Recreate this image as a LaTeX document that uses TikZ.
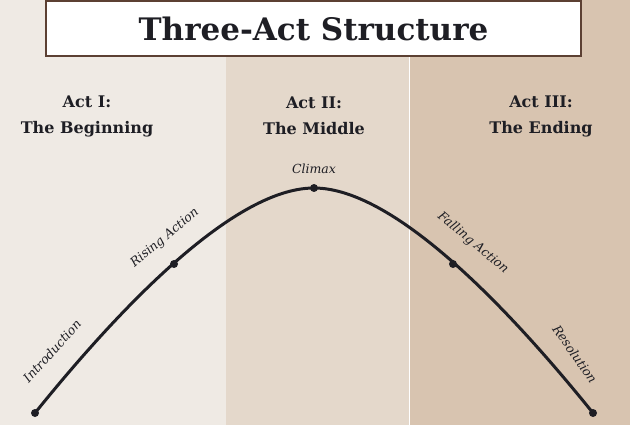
\documentclass[tikz,border=0pt]{standalone}
\usepackage{fontspec}
\setmainfont{DejaVu Serif}
\definecolor{actone}{HTML}{EFEAE4}
\definecolor{acttwo}{HTML}{E4D8CB}
\definecolor{actthree}{HTML}{D8C4B0}
\definecolor{frame}{HTML}{5C4033}
\definecolor{ink}{HTML}{1E1E24}
\tikzset{
  act/.style={align=center, text=ink, font=\bfseries\fontsize{16}{26}\selectfont},
  stage/.style={text=ink, font=\itshape\fontsize{12.5}{14}\selectfont},
  dot/.style={circle, fill=ink, inner sep=0, minimum size=8pt}
}
\begin{document}
\begin{tikzpicture}[x=1pt, y=-1pt]
    \useasboundingbox (0,0) rectangle (630,425);
    \fill[actone] (0,0) rectangle (226,425);
    \fill[acttwo] (226,0) rectangle (409,425);
    \fill[actthree] (409,0) rectangle (630,425);
    \draw[white, line width=0.8pt] (409,57) -- (409,425);
    \node[draw=frame, line width=2pt, fill=white, minimum width=535pt, minimum height=55pt,
          text=ink, font=\bfseries\fontsize{31}{34}\selectfont] (title) at (313.5,28.5) {Three-Act Structure};
    \node[act] (a1) at (87,116) {Act I:\\The Beginning};
    \node[act] (a2) at (314,116) {Act II:\\The Middle};
    \node[act] (a3) at (541,116) {Act III:\\The Ending};
    % story arc
    \node[dot] (intro) at (35,413) {};
    \node[dot] (rise) at (174,264) {};
    \node[dot] (climax) at (314,188) {};
    \node[dot] (fall) at (453,264) {};
    \node[dot] (resol) at (593,413) {};
    \draw[ink, line width=3pt] (intro.center) .. controls (110,320) and (230,188) .. (climax.center)
        .. controls (398,188) and (518,320) .. (resol.center);
    \node[stage, rotate=48] at (52,351) {Introduction};
    \node[stage, rotate=40] at (165,238) {Rising Action};
    \node[stage] at (314,169) {Climax};
    \node[stage, rotate=-40] at (473,243) {Falling Action};
    \node[stage, rotate=-55] at (575,354) {Resolution};
\end{tikzpicture}
\end{document}
